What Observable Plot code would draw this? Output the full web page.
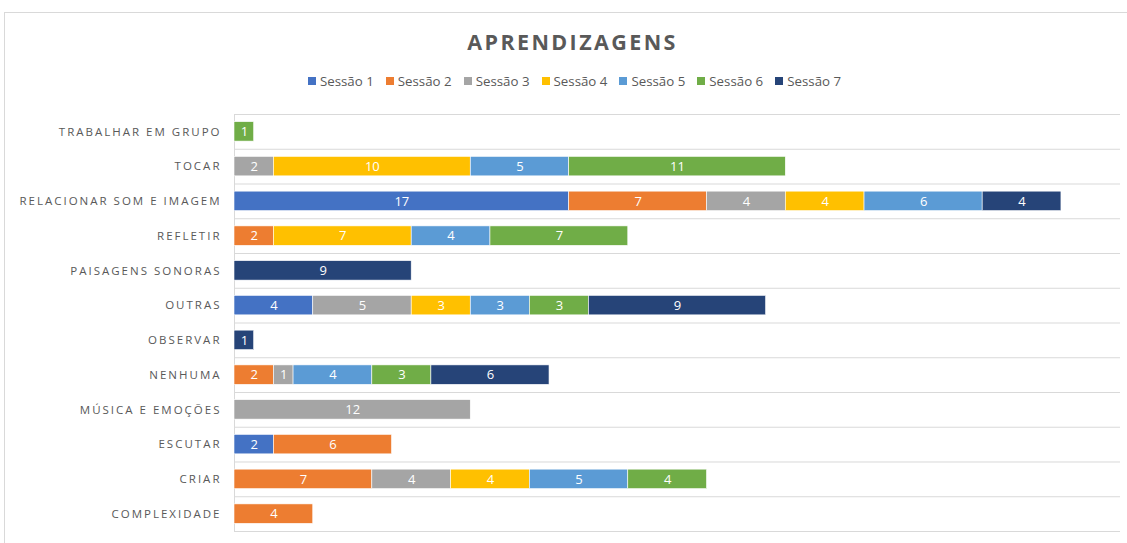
<!DOCTYPE html>
<html>
<head>
<meta charset="utf-8">
<script src="https://cdn.jsdelivr.net/npm/d3@7"></script>
<script src="https://cdn.jsdelivr.net/npm/@observablehq/plot@0.6"></script>
<style>
  html, body { margin: 0; padding: 0; background: #fff; width: 1127px; height: 543px; overflow: hidden; }
  #frame { position: absolute; left: 4px; top: 12px; width: 1140px; height: 560px; border: 1px solid #d9d9d9; box-sizing: border-box; }
  #title { position: absolute; left: 0; width: 1145px; top: 27px; text-align: center; font-family: "Open Sans", sans-serif; font-weight: 700; font-size: 21.5px; letter-spacing: 2.4px; color: #595959; }
  #legend { position: absolute; left: 0; width: 1149px; top: 72px; display: flex; justify-content: center; font-family: "Open Sans", sans-serif; font-size: 13.3px; color: #595959; }
  #legend .item { display: flex; align-items: center; margin: 0 6px; }
  #legend .sw { width: 8px; height: 8px; margin-right: 4px; }
  #chart { position: absolute; left: 0; top: 100px; }
</style>
</head>
<body>
<div id="frame"></div>
<div id="title">APRENDIZAGENS</div>
<div id="legend"></div>
<div id="chart"></div>
<script>
const categories = [
  "TRABALHAR EM GRUPO", "TOCAR", "RELACIONAR SOM E IMAGEM", "REFLETIR",
  "PAISAGENS SONORAS", "OUTRAS", "OBSERVAR", "NENHUMA",
  "MÚSICA E EMOÇÕES", "ESCUTAR", "CRIAR", "COMPLEXIDADE"
];
const seriesNames = ["Sessão 1", "Sessão 2", "Sessão 3", "Sessão 4", "Sessão 5", "Sessão 6", "Sessão 7"];
const seriesColors = ["#4472C4", "#ED7D31", "#A5A5A5", "#FFC000", "#5B9BD5", "#70AD47", "#264478"];
// values per category (same order as categories)
const sessao1 = [0, 0, 17, 0, 0, 4, 0, 0, 0, 2, 0, 0];
const sessao2 = [0, 0, 7, 2, 0, 0, 0, 2, 0, 6, 7, 4];
const sessao3 = [0, 2, 4, 0, 0, 5, 0, 1, 12, 0, 4, 0];
const sessao4 = [0, 10, 4, 7, 0, 3, 0, 0, 0, 0, 4, 0];
const sessao5 = [0, 5, 6, 4, 0, 3, 0, 4, 0, 0, 5, 0];
const sessao6 = [1, 11, 0, 7, 0, 3, 0, 3, 0, 0, 4, 0];
const sessao7 = [0, 0, 4, 0, 9, 9, 1, 6, 0, 0, 0, 0];
const seriesValues = [sessao1, sessao2, sessao3, sessao4, sessao5, sessao6, sessao7];

const data = [];
seriesNames.forEach((s, si) => {
  categories.forEach((c, ci) => {
    const v = seriesValues[si][ci];
    if (v > 0) data.push({cat: c, series: s, value: v});
  });
});

// legend
const leg = document.getElementById("legend");
seriesNames.forEach((s, i) => {
  const it = document.createElement("div");
  it.className = "item";
  it.innerHTML = `<span class="sw" style="background:${seriesColors[i]}"></span><span>${s}</span>`;
  leg.appendChild(it);
});

const W = 1127, H = 443, mt = 14, mb = 12, ml = 234, mr = 7;
const step = (H - mt - mb) / categories.length;

const plot = Plot.plot({
  width: W,
  height: H,
  marginTop: mt,
  marginBottom: mb,
  marginLeft: ml,
  marginRight: mr,
  x: {domain: [0, 45], axis: null},
  y: {domain: categories, paddingInner: 0.44, paddingOuter: 0.22, align: 0.5, round: false, label: null, tickSize: 0, tickPadding: 13},
  color: {domain: seriesNames, range: seriesColors},
  style: {fontFamily: "'Open Sans', sans-serif"},
  marks: [
    Plot.ruleY(categories, {y: d => d, dy: -step / 2, stroke: "#d9d9d9", strokeWidth: 1}),
    Plot.ruleY([categories[categories.length - 1]], {y: d => d, dy: step / 2, stroke: "#d9d9d9", strokeWidth: 1}),
    Plot.ruleX([0], {stroke: "#d9d9d9"}),
    Plot.barX(data, Plot.stackX({x: "value", y: "cat", fill: "series", order: seriesNames, stroke: "white", strokeWidth: 0.6})),
    Plot.text(data, Plot.stackX({x: "value", y: "cat", z: "series", order: seriesNames, text: d => String(d.value), fill: "white", fontSize: 13})),
    Plot.axisY({tickSize: 0, tickPadding: 13, fontSize: 11.5, fill: "#595959", label: null})
  ]
});
plot.querySelectorAll("g[aria-label='y-axis tick label'] text").forEach(t => t.style.letterSpacing = "2px");
document.getElementById("chart").appendChild(plot);
</script>
</body>
</html>
